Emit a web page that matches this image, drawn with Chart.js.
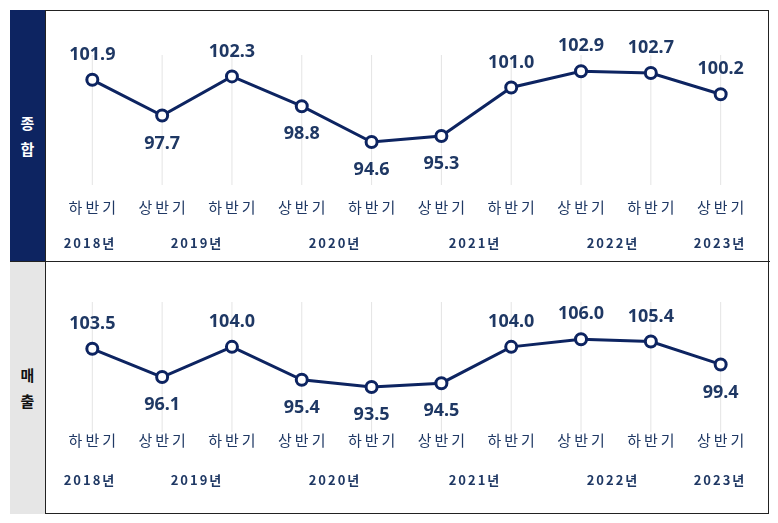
<!DOCTYPE html>
<html><head><meta charset="utf-8">
<script src="https://cdn.jsdelivr.net/npm/chart.js@4"></script>
<style>
body{margin:0;background:#fff;font-family:"Noto Sans CJK KR","Noto Sans",sans-serif;}
#wrap{position:absolute;left:10px;top:10px;width:759px;height:504px;border:1px solid #222;box-sizing:border-box;}
.side{position:absolute;left:10px;width:35px;display:flex;align-items:center;justify-content:center;text-align:center;font-size:15px;line-height:26px;font-weight:bold;}
.cv{position:absolute;left:45px;width:725px;}
.yr{position:absolute;font-size:13px;font-weight:bold;color:#1f3864;letter-spacing:2px;transform:translateX(-50%);}
.hline{position:absolute;left:10px;width:760px;top:261px;border-top:1px solid #222;}
.vline{position:absolute;left:45px;top:10px;height:504px;border-left:1px solid #222;}
</style></head><body>
<div id="wrap"></div>
<div class="side" style="top:10px;height:252px;background:#0d2461;color:#fff;">종<br>합</div>
<div class="side" style="top:262px;height:252px;background:#e6e6e6;color:#111;">매<br>출</div>
<div class="hline"></div><div class="vline"></div>
<div class="cv" style="top:10px;height:252px;"><canvas id="c1"></canvas></div>
<div class="cv" style="top:262px;height:252px;"><canvas id="c2"></canvas></div>
<script>
const categories=["하반기","상반기","하반기","상반기","하반기","상반기","하반기","상반기","하반기","상반기"];
const totalValues=[101.9,97.7,102.3,98.8,94.6,95.3,101.0,102.9,102.7,100.2];
const salesValues=[103.5,96.1,104.0,95.4,93.5,94.5,104.0,106.0,105.4,99.4];
const totalAbove=[true,false,true,false,false,false,true,true,true,true];
const salesAbove=[true,false,true,false,false,false,true,true,true,false];
const yearLabels=["2018년","2019년","2020년","2021년","2022년","2023년"];
const yearPos=[90,197,335,475,613,720];

yearPos.forEach((x,i)=>{[233,470].forEach(t=>{const d=document.createElement('div');d.className='yr';d.style.left=x+'px';d.style.top=t+'px';d.textContent=yearLabels[i];document.body.appendChild(d);});});

const navy='#0d2461';
function make(id,vals,above,ymin,ymax,gTop,gBot,catY){
  const lbl={id:'lbl',beforeDatasetsDraw(ch){const c=ch.ctx,xs=ch.scales.x;
      c.save();c.strokeStyle='#e4e4e4';c.lineWidth=1;
      vals.forEach((v,i)=>{const x=xs.getPixelForValue(i);c.beginPath();c.moveTo(x,gTop);c.lineTo(x,gBot);c.stroke();});
      c.fillStyle='#1f3864';c.font='15px "Noto Sans CJK KR"';c.letterSpacing='3px';c.textAlign='center';c.textBaseline='middle';
      categories.forEach((t,i)=>{const x=xs.getPixelForValue(i);c.fillText(t,x+1.5,catY);});
      c.restore();},
    afterDatasetsDraw(ch){const c=ch.ctx,xs=ch.scales.x,ys=ch.scales.y;c.save();
      c.fillStyle='#1f3864';c.font='bold 18px "Noto Sans"';c.textAlign='center';c.textBaseline='middle';
      vals.forEach((v,i)=>{const x=xs.getPixelForValue(i),y=ys.getPixelForValue(v);c.fillText(v.toFixed(1),x,above[i]?y-25:y+28);});
      c.restore();}};
  new Chart(document.getElementById(id),{type:'line',
    data:{datasets:[{data:vals.map((v,i)=>({x:i,y:v})),borderColor:navy,borderWidth:3,pointRadius:5.5,pointBorderWidth:3,pointBackgroundColor:'#fff',pointBorderColor:navy,tension:0}]},
    options:{responsive:true,maintainAspectRatio:false,animation:false,layout:{padding:0},
      plugins:{legend:{display:false},tooltip:{enabled:false}},
      scales:{x:{type:'linear',display:false,min:-0.556,max:9.585},y:{display:false,min:ymin,max:ymax}}},
    plugins:[lbl]});
}
make('c1',totalValues,totalAbove,81.5,109.1,45,175,197);
make('c2',salesValues,salesAbove,62.51,123.97,40,170,178);
</script></body></html>
